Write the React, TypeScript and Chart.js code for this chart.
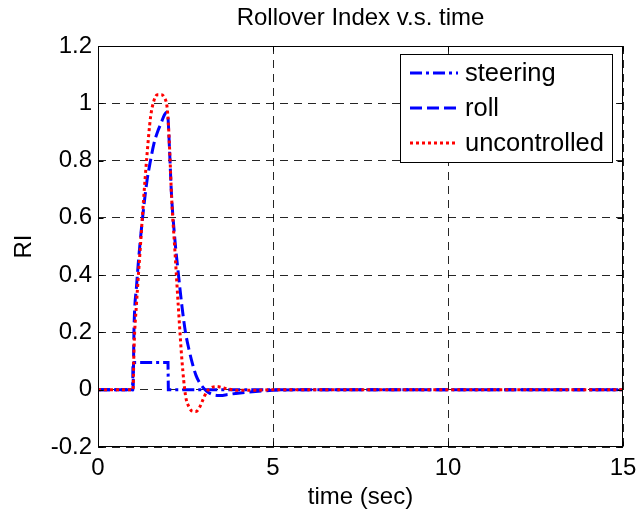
import React, { useEffect, useRef } from "react";
import { Chart, registerables } from "chart.js";

Chart.register(...registerables);

// ---- data ----
const time = [
  0, 0.99, 1.0, 1.03, 1.1, 1.2, 1.3, 1.4, 1.5, 1.6, 1.7, 1.8, 1.9, 1.97, 2.0, 2.01, 2.05, 2.1, 2.2, 2.3,
  2.4, 2.5, 2.6, 2.7, 2.8, 2.9, 3.0, 3.1, 3.2, 3.3, 3.4, 3.5, 3.7, 4.0, 4.5, 5.0, 6.0, 15,
];
const steering = [
  0, 0, 0.095, 0.095, 0.095, 0.095, 0.095, 0.095, 0.095, 0.095, 0.095, 0.095, 0.095, 0.095, 0.095, 0, 0, 0, 0, 0,
  0, 0, 0, 0, 0, 0, 0, 0, 0, 0, 0, 0, 0, 0, 0, 0, 0, 0,
];
const roll = [
  0, 0, 0, 0.22, 0.36, 0.51, 0.63, 0.73, 0.8, 0.86, 0.9, 0.93, 0.96, 0.97, 0.95, 0.93, 0.82, 0.68, 0.52, 0.4,
  0.29, 0.2, 0.14, 0.09, 0.05, 0.025, 0.008, -0.005, -0.013, -0.018, -0.02, -0.02, -0.017, -0.012, -0.006, -0.002, 0, 0,
];
const uncontrolled = [
  0, 0, 0, 0.15, 0.3, 0.48, 0.66, 0.82, 0.95, 1.01, 1.03, 1.03, 1.02, 0.99, 0.95, 0.93, 0.83, 0.68, 0.48, 0.28,
  0.1, -0.02, -0.06, -0.075, -0.076, -0.062, -0.035, -0.008, 0.004, 0.01, 0.011, 0.009, 0.003, -0.002, -0.002, 0, 0, 0,
];
const seriesNames = ["steering", "roll", "uncontrolled"];
const xTicks = [0, 5, 10, 15];
const yTicks = [-0.2, 0, 0.2, 0.4, 0.6, 0.8, 1, 1.2];
const chartTitle = "Rollover Index v.s. time";
const xTitle = "time (sec)";
const yTitle = "RI";

const FONT = '"Liberation Sans", Arial, Helvetica, sans-serif';

const toPoints = (ys: number[]) => ys.map((y, i) => ({ x: time[i], y }));

const matlabPlugin = {
  id: "matlabDecor",
  afterDraw(chart: any) {
    const { ctx, chartArea: a } = chart;
    const xs = chart.scales.x;
    const ys = chart.scales.y;
    ctx.save();
    ctx.setLineDash([]);
    ctx.strokeStyle = "#000";
    ctx.lineWidth = 1;
    const L = Math.round(a.left) + 0.5;
    const T = Math.round(a.top) + 0.5;
    const R = Math.round(a.right) - 0.5;
    const B = Math.round(a.bottom) - 0.5;
    ctx.strokeRect(L, T, R - L, B - T);
    ctx.beginPath();
    for (const v of xTicks) {
      const px = Math.round(xs.getPixelForValue(v)) + 0.5;
      ctx.moveTo(px, B);
      ctx.lineTo(px, B - 5);
      ctx.moveTo(px, T);
      ctx.lineTo(px, T + 5);
    }
    for (const v of yTicks) {
      const py = Math.round(ys.getPixelForValue(v)) + 0.5;
      ctx.moveTo(L, py);
      ctx.lineTo(L + 5, py);
      ctx.moveTo(R, py);
      ctx.lineTo(R - 5, py);
    }
    ctx.stroke();

    // titles
    ctx.fillStyle = "#000";
    ctx.font = `24px ${FONT}`;
    ctx.textAlign = "center";
    ctx.textBaseline = "middle";
    const cx = (a.left + a.right) / 2;
    ctx.fillText(chartTitle, cx, 18);
    ctx.fillText(xTitle, cx, 497);
    ctx.save();
    ctx.translate(24, (a.top + a.bottom) / 2);
    ctx.rotate(-Math.PI / 2);
    ctx.fillText(yTitle, 0, 0);
    ctx.restore();

    // legend
    const bx = 400.5, by = 54.5, bw = 212, bh = 108;
    ctx.fillStyle = "#fff";
    ctx.fillRect(bx, by, bw, bh);
    ctx.strokeStyle = "#000";
    ctx.lineWidth = 1;
    ctx.strokeRect(bx, by, bw, bh);
    const dsets = chart.data.datasets;
    [0, 1, 2].forEach((di, row) => {
      const ds = dsets[di];
      const yy = 73 + row * 35;
      ctx.save();
      ctx.strokeStyle = ds.borderColor;
      ctx.lineWidth = ds.borderWidth;
      ctx.setLineDash(ds.borderDash || []);
      ctx.beginPath();
      ctx.moveTo(410, yy);
      ctx.lineTo(458, yy);
      ctx.stroke();
      ctx.restore();
      ctx.fillStyle = "#000";
      ctx.font = `25.5px ${FONT}`;
      ctx.textAlign = "left";
      ctx.textBaseline = "middle";
      ctx.fillText(ds.label, 465, yy + 1);
    });
    ctx.restore();
  },
};

export default function App() {
  const ref = useRef<HTMLCanvasElement | null>(null);
  useEffect(() => {
    document.body.style.margin = "0";
    const canvas = ref.current;
    if (!canvas) return;
    const chart = new Chart(canvas, {
      type: "line",
      data: {
        datasets: [
          {
            label: seriesNames[0],
            data: toPoints(steering),
            borderColor: "#0000ff",
            borderWidth: 3,
            borderDash: [12, 4, 3, 4],
            pointRadius: 0,
            fill: false,
            order: 2,
          },
          {
            label: seriesNames[1],
            data: toPoints(roll),
            borderColor: "#0000ff",
            borderWidth: 3,
            borderDash: [12, 5],
            pointRadius: 0,
            fill: false,
            cubicInterpolationMode: "monotone",
            order: 1,
          },
          {
            label: seriesNames[2],
            data: toPoints(uncontrolled),
            borderColor: "#ff0000",
            borderWidth: 3,
            borderDash: [3, 3],
            pointRadius: 0,
            fill: false,
            cubicInterpolationMode: "monotone",
            order: 0,
          },
        ],
      },
      options: {
        responsive: false,
        animation: false,
        events: [],
        layout: { padding: { top: 46, right: 16, left: 0, bottom: 0 } },
        plugins: {
          legend: { display: false },
          title: { display: false },
          tooltip: { enabled: false },
        },
        scales: {
          x: {
            type: "linear",
            min: 0,
            max: 15,
            afterBuildTicks: (s: any) => {
              s.ticks = xTicks.map((v) => ({ value: v }));
            },
            afterFit: (s: any) => {
              s.height = 65;
              s.paddingLeft = 0;
              s.paddingRight = 0;
              s.paddingTop = 0;
              s.paddingBottom = 0;
            },
            ticks: {
              color: "#000",
              font: { family: FONT, size: 24 },
              padding: 7,
              maxRotation: 0,
              callback: (v: any) => String(v),
            },
            grid: { color: "rgba(0,0,0,0.85)", lineWidth: 1, drawTicks: false },
            border: { display: false, dash: [8, 6] },
          },
          y: {
            type: "linear",
            min: -0.2,
            max: 1.2,
            afterBuildTicks: (s: any) => {
              s.ticks = yTicks.map((v) => ({ value: v }));
            },
            afterFit: (s: any) => {
              s.width = 98;
              s.paddingLeft = 0;
              s.paddingRight = 0;
              s.paddingTop = 0;
              s.paddingBottom = 0;
            },
            ticks: {
              color: "#000",
              font: { family: FONT, size: 24 },
              padding: 6,
              callback: (v: any) => String(Number(Number(v).toFixed(1))),
            },
            grid: { color: "rgba(0,0,0,0.85)", lineWidth: 1, drawTicks: false },
            border: { display: false, dash: [8, 6] },
          },
        },
      },
      plugins: [matlabPlugin],
    });
    return () => chart.destroy();
  }, []);
  return (
    <div style={{ width: 639, height: 512, background: "#fff" }}>
      <canvas ref={ref} width={639} height={512} style={{ display: "block" }} />
    </div>
  );
}
